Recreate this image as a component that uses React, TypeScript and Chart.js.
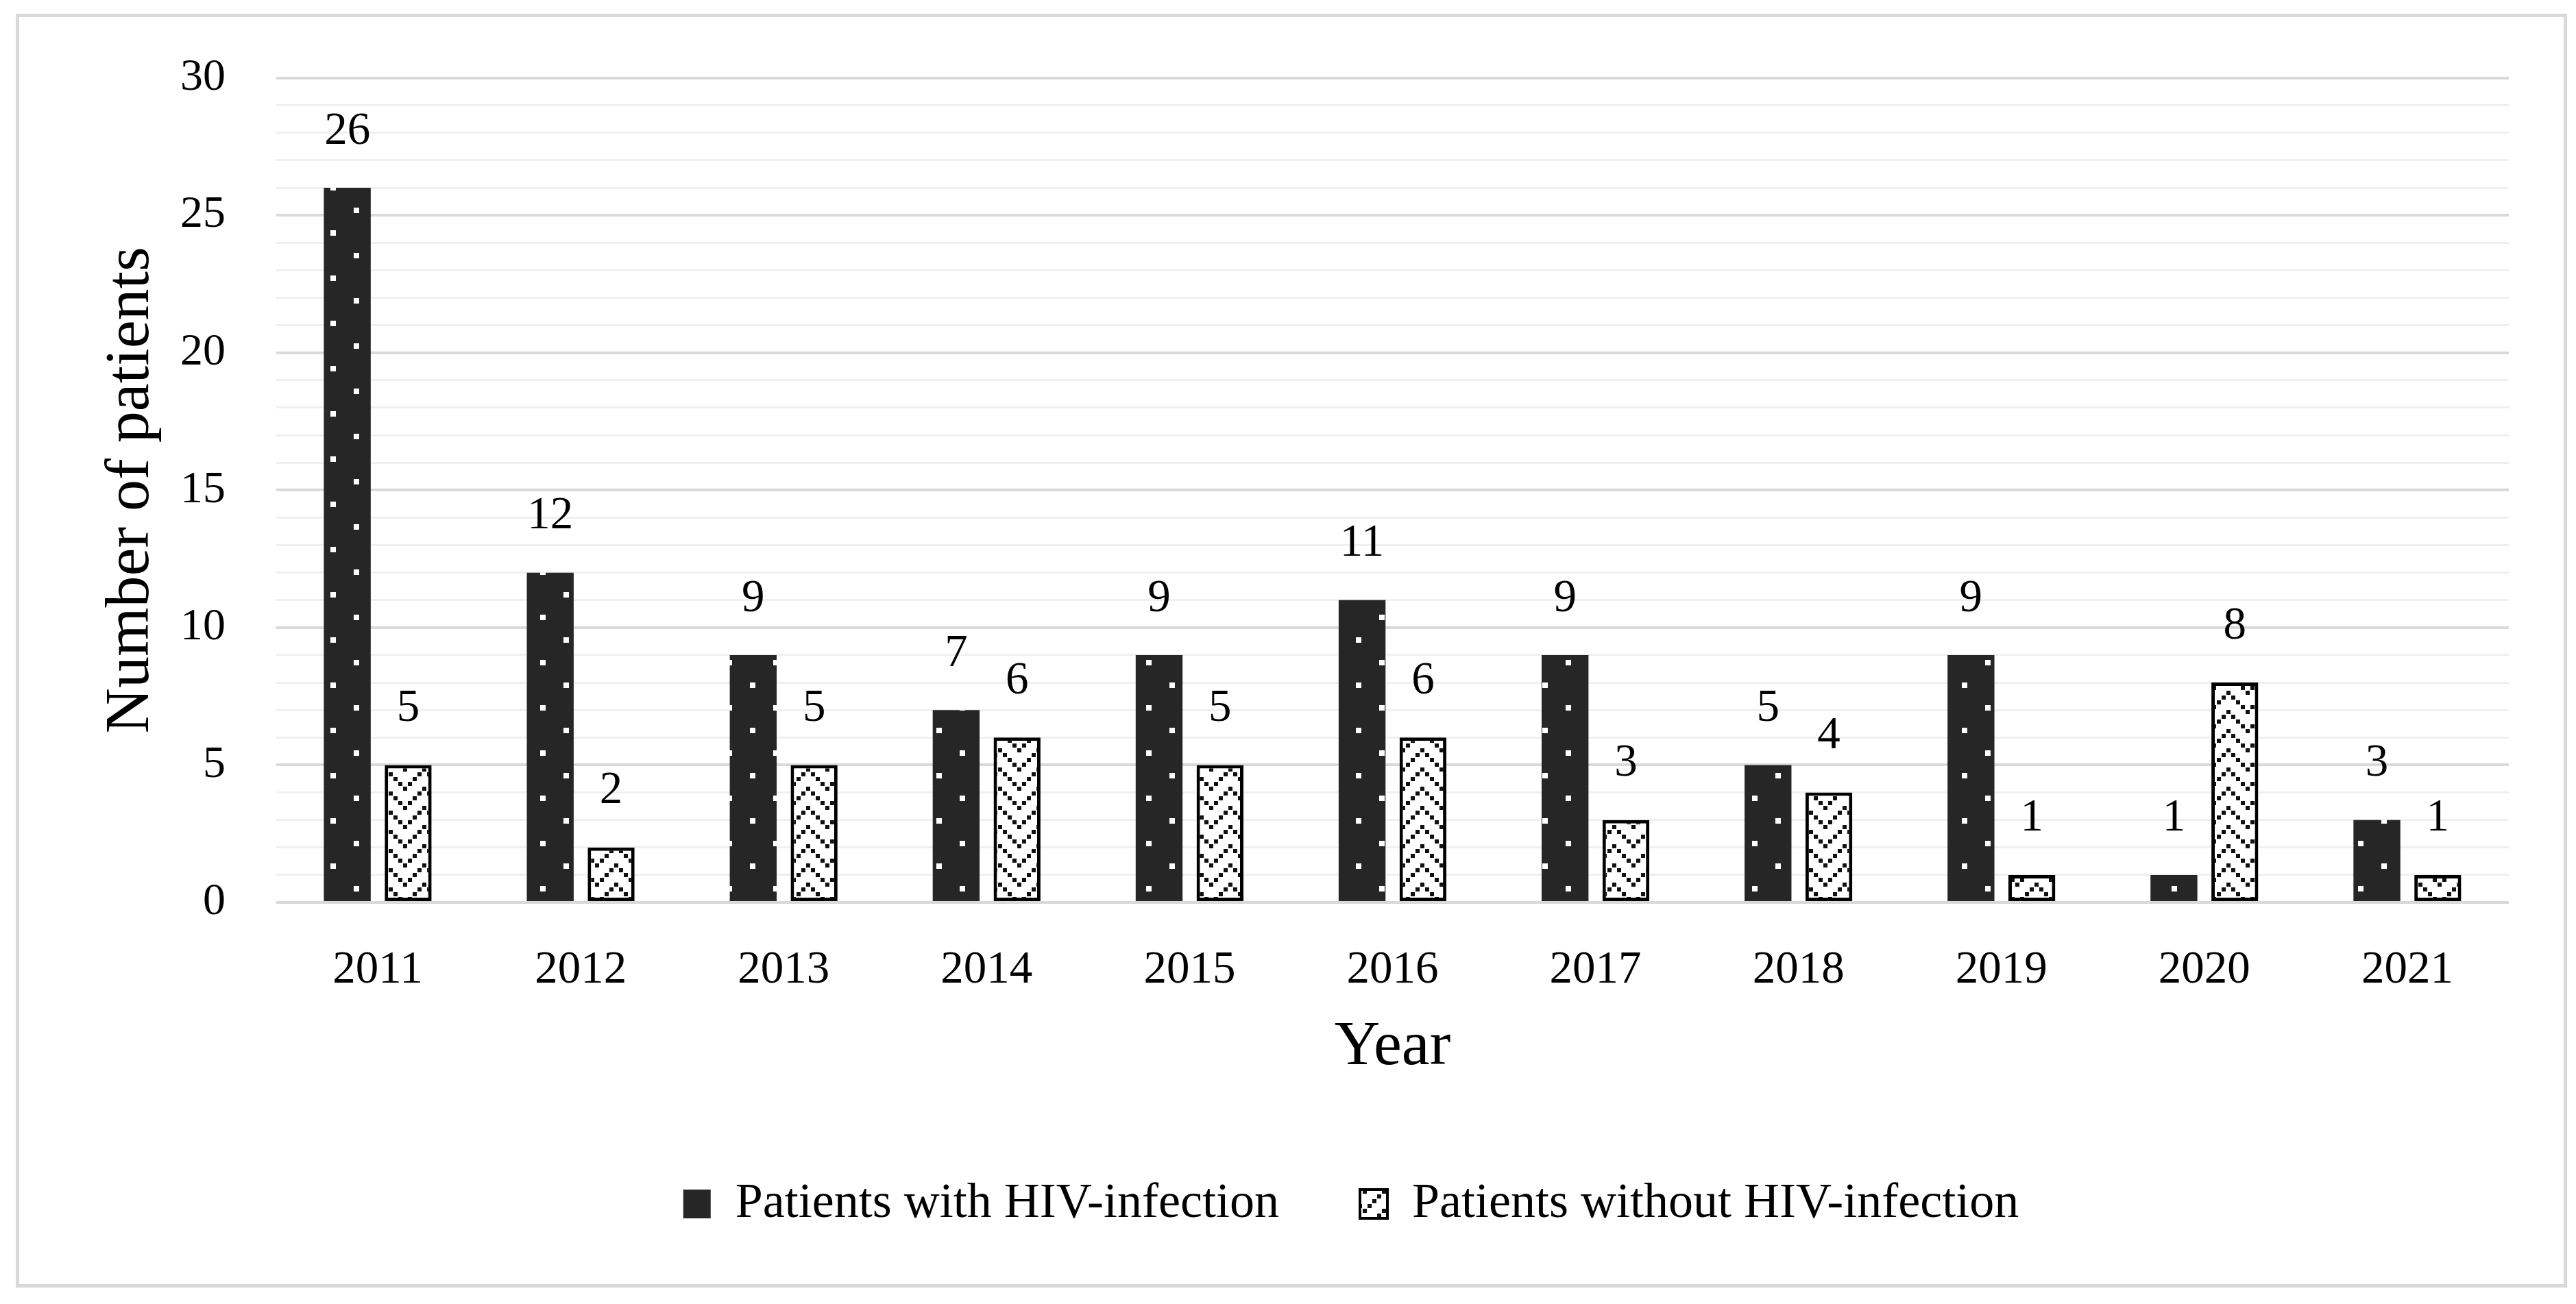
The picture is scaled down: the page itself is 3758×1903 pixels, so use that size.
import React, { useEffect, useRef } from 'react';
import { Chart, registerables } from 'chart.js';

Chart.register(...registerables);

const years = ['2011', '2012', '2013', '2014', '2015', '2016', '2017', '2018', '2019', '2020', '2021'];
const hivPatients = [26, 12, 9, 7, 9, 11, 9, 5, 9, 1, 3];
const nonHivPatients = [5, 2, 5, 6, 5, 6, 3, 4, 1, 8, 1];
const seriesNames = ['Patients with HIV-infection', 'Patients without HIV-infection'];
const yMajorTicks = [0, 5, 10, 15, 20, 25, 30];
const xTitle = 'Year';
const yTitle = 'Number of patients';

const FONT = '"Liberation Serif", "Times New Roman", serif';

function makeDotPattern(): CanvasPattern | string {
  const c = document.createElement('canvas');
  c.width = 68;
  c.height = 66;
  const g = c.getContext('2d');
  if (!g) return '#262626';
  g.fillStyle = '#262626';
  g.fillRect(0, 0, 68, 66);
  g.fillStyle = '#ffffff';
  g.fillRect(6, 6, 8, 8);
  g.fillRect(40, 39, 8, 8);
  return g.createPattern(c, 'repeat') || '#262626';
}

function makeChevronPattern(): CanvasPattern | string {
  const w = 56;
  const h = 28;
  const step = 7;
  const s = 6;
  const c = document.createElement('canvas');
  c.width = w;
  c.height = h;
  const g = c.getContext('2d');
  if (!g) return '#ffffff';
  g.fillStyle = '#ffffff';
  g.fillRect(0, 0, w, h);
  g.fillStyle = '#111111';
  for (let k = 0; k < 4; k++) {
    g.fillRect(step * k, step * k, s, s);
    g.fillRect((w - step * k) % w, step * k, s, s);
  }
  g.fillRect(w / 2, 0, s, s);
  return g.createPattern(c, 'repeat') || '#ffffff';
}

export default function App() {
  const ref = useRef<HTMLCanvasElement | null>(null);

  useEffect(() => {
    if (!ref.current) return;
    const dots = makeDotPattern();
    const chevron = makeChevronPattern();

    const framePlugin = {
      id: 'frameAndLabels',
      beforeDraw(chart: any) {
        const { ctx, width, height } = chart;
        ctx.save();
        ctx.fillStyle = '#ffffff';
        ctx.fillRect(0, 0, width, height);
        ctx.strokeStyle = '#d9d9d9';
        ctx.lineWidth = 5;
        ctx.strokeRect(25.5, 22.5, 3717, 1854);
        ctx.restore();
      },
      afterLayout(chart: any) {
        const lg = chart.legend;
        if (lg) {
          const shift = 1971 - (lg.left + lg.right) / 2;
          lg.left += shift;
          lg.right += shift;
        }
      },
      afterDatasetsDraw(chart: any) {
        const { ctx } = chart;
        ctx.save();
        ctx.fillStyle = '#000000';
        ctx.font = `67px ${FONT}`;
        ctx.textAlign = 'center';
        ctx.textBaseline = 'middle';
        chart.data.datasets.forEach((ds: any, i: number) => {
          const meta = chart.getDatasetMeta(i);
          meta.data.forEach((bar: any, j: number) => {
            ctx.fillText(String(ds.data[j]), bar.x, bar.y - 82);
          });
        });
        ctx.restore();
      },
    };

    const chart = new Chart(ref.current, {
      type: 'bar',
      data: {
        labels: years,
        datasets: [
          {
            label: seriesNames[0],
            data: hivPatients,
            backgroundColor: dots as any,
            borderWidth: 0,
            categoryPercentage: 0.6,
            barPercentage: 0.77,
          },
          {
            label: seriesNames[1],
            data: nonHivPatients,
            backgroundColor: chevron as any,
            borderColor: '#000000',
            borderWidth: 5,
            borderSkipped: false,
            categoryPercentage: 0.6,
            barPercentage: 0.77,
          },
        ],
      },
      options: {
        animation: false,
        responsive: true,
        maintainAspectRatio: false,
        devicePixelRatio: 1,
        layout: { padding: { top: 109, left: 40, right: 98, bottom: 100 } },
        plugins: {
          tooltip: { enabled: false },
          legend: {
            position: 'bottom',
            labels: {
              font: { family: FONT, size: 72 },
              color: '#000000',
              boxWidth: 40,
              boxHeight: 42,
              padding: 118,
              generateLabels: (ch: any) =>
                ch.data.datasets.map((ds: any, i: number) => ({
                  text: ds.label,
                  fillStyle: i === 0 ? '#262626' : chevron,
                  strokeStyle: '#000000',
                  lineWidth: i === 0 ? 0 : 4,
                  hidden: false,
                  datasetIndex: i,
                  fontColor: '#000000',
                })),
            },
          },
        },
        scales: {
          x: {
            grid: { display: false },
            border: { display: false },
            ticks: {
              font: { family: FONT, size: 67 },
              color: '#000000',
              padding: 51,
              maxRotation: 0,
            },
            title: {
              display: true,
              text: xTitle,
              font: { family: FONT, size: 92 },
              color: '#000000',
              padding: { top: 0, bottom: 19 },
            },
            afterFit: (scale: any) => {
              scale.height = 286;
            },
          },
          y: {
            min: 0,
            max: 30,
            border: { display: false },
            grid: {
              drawTicks: false,
              color: (c: any) => (c.tick && yMajorTicks.includes(c.tick.value) ? '#d9d9d9' : '#f0f0f0'),
              lineWidth: (c: any) => (c.tick && yMajorTicks.includes(c.tick.value) ? 4 : 3),
            },
            ticks: {
              stepSize: 1,
              autoSkip: false,
              font: { family: FONT, size: 66 },
              color: '#000000',
              padding: 74,
              callback: (v: any) => (yMajorTicks.includes(Number(v)) ? String(v) : ''),
            },
            title: {
              display: true,
              text: yTitle,
              font: { family: FONT, size: 92 },
              color: '#000000',
              padding: { top: 97, bottom: 0 },
            },
            afterFit: (scale: any) => {
              scale.width = 363;
            },
          },
        },
      },
      plugins: [framePlugin],
    });

    return () => chart.destroy();
  }, []);

  return (
    <div style={{ position: 'fixed', left: 0, top: 0, width: 3758, height: 1903, background: '#ffffff' }}>
      <canvas ref={ref} />
    </div>
  );
}
